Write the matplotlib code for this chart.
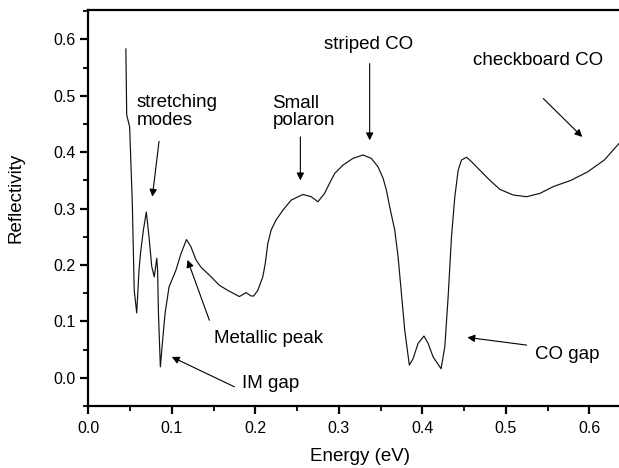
import numpy as np
import matplotlib
matplotlib.use("Agg")
import matplotlib.pyplot as plt
from matplotlib.ticker import MultipleLocator

plt.rcParams['font.family'] = ['Liberation Sans', 'DejaVu Sans']

energy = [0.045, 0.046, 0.0495, 0.0527, 0.055, 0.058, 0.0607, 0.0627, 0.066, 0.0695,
          0.0727, 0.076, 0.079, 0.082, 0.083, 0.084, 0.0863, 0.0887, 0.092, 0.0967,
          0.105, 0.111, 0.1176, 0.123, 0.129, 0.135, 0.145, 0.157, 0.167, 0.181,
          0.189, 0.195, 0.198, 0.203, 0.209, 0.212, 0.215, 0.219, 0.225, 0.233,
          0.243, 0.257, 0.267, 0.275, 0.283, 0.289, 0.295, 0.305, 0.317, 0.329,
          0.339, 0.347, 0.353, 0.357, 0.361, 0.367, 0.371, 0.375, 0.379, 0.3845,
          0.389, 0.395, 0.402, 0.407, 0.413, 0.4225, 0.427, 0.431, 0.435, 0.439,
          0.443, 0.447, 0.453, 0.459, 0.469, 0.481, 0.493, 0.509, 0.525, 0.541,
          0.557, 0.578, 0.598, 0.618, 0.636]
reflectivity = [0.583, 0.466, 0.445, 0.31, 0.155, 0.115, 0.19, 0.223, 0.262, 0.294,
                0.25, 0.197, 0.179, 0.212, 0.191, 0.115, 0.0195, 0.061, 0.115, 0.161,
                0.191, 0.22, 0.245, 0.232, 0.209, 0.196, 0.182, 0.164, 0.155, 0.144,
                0.151, 0.145, 0.145, 0.155, 0.179, 0.203, 0.238, 0.262, 0.28, 0.297,
                0.315, 0.325, 0.321, 0.312, 0.327, 0.345, 0.362, 0.377, 0.389, 0.395,
                0.389, 0.374, 0.354, 0.333, 0.303, 0.262, 0.215, 0.15, 0.0846, 0.0225,
                0.034, 0.061, 0.074, 0.061, 0.037, 0.016, 0.055, 0.144, 0.25, 0.321,
                0.368, 0.386, 0.391, 0.383, 0.368, 0.35, 0.334, 0.324, 0.321, 0.327,
                0.339, 0.35, 0.365, 0.386, 0.416]

tick_values = [0.0, 0.1, 0.2, 0.3, 0.4, 0.5, 0.6]
tick_labels = ["0.0", "0.1", "0.2", "0.3", "0.4", "0.5", "0.6"]

# annotations: text, text position, arrow tail, arrow head, ha
annot_text = ["stretching\nmodes", "Metallic peak", "IM gap", "Small\npolaron",
              "striped CO", "checkboard CO", "CO gap"]
annot_xy_text = [(0.0575, 0.472), (0.151, 0.070), (0.1835, -0.010), (0.2206, 0.471),
                 (0.336, 0.590), (0.539, 0.563), (0.535, 0.042)]
annot_tail = [(0.0847, 0.419), (0.145, 0.102), (0.175, -0.016), (0.254, 0.427),
              (0.337, 0.557), (0.545, 0.495), (0.525, 0.058)]
annot_head = [(0.0767, 0.321), (0.1188, 0.209), (0.100, 0.037), (0.254, 0.350),
              (0.337, 0.421), (0.5916, 0.427), (0.454, 0.0716)]
annot_ha = ["left", "left", "left", "left", "center", "center", "left"]

W, H = 619, 468
left_px, right_px, bottom_px, top_px = 88.3, 631.0, 406.0, 10.0
fig = plt.figure(figsize=(W / 100, H / 100), dpi=100)
ax = fig.add_axes([left_px / W, 1 - bottom_px / H,
                   (right_px - left_px) / W, (bottom_px - top_px) / H])

ax.plot(energy, reflectivity, color='#111111', lw=0.85)

ax.set_xlim(0.0, 0.65)
ax.set_ylim(-0.05, 0.652)
ax.xaxis.set_minor_locator(MultipleLocator(0.05))
ax.yaxis.set_minor_locator(MultipleLocator(0.05))
ax.set_xticks(tick_values)
ax.set_xticklabels(tick_labels)
ax.set_yticks(tick_values)
ax.set_yticklabels(tick_labels)
ax.tick_params(which='major', direction='out', length=6, width=1.6, labelsize=11.5)
ax.tick_params(which='minor', direction='out', length=3.3, width=1.3)
ax.tick_params(axis='x', which='major', pad=4.8)
ax.tick_params(axis='y', which='major', pad=3)
ax.spines['right'].set_visible(False)
for s in ['left', 'bottom', 'top']:
    ax.spines[s].set_linewidth(1.6)

ax.set_xlabel("Energy (eV)", fontsize=13.5)
ax.set_ylabel("Reflectivity", fontsize=13.5)
ax.xaxis.set_label_coords((360 - left_px) / (right_px - left_px), (bottom_px - 448) / (bottom_px - top_px))
ax.yaxis.set_label_coords((25 - left_px) / (right_px - left_px), (bottom_px - 197.5) / (bottom_px - top_px))

for t, xyt, tail, head, ha in zip(annot_text, annot_xy_text, annot_tail, annot_head, annot_ha):
    ax.text(xyt[0], xyt[1], t, fontsize=13.5, ha=ha, va='center', linespacing=1.05)
    ax.annotate("", xy=head, xytext=tail,
                arrowprops=dict(arrowstyle='-|>', color='black', lw=0.8,
                                mutation_scale=11, shrinkA=0, shrinkB=0))

fig.savefig("out.png", dpi=100)
